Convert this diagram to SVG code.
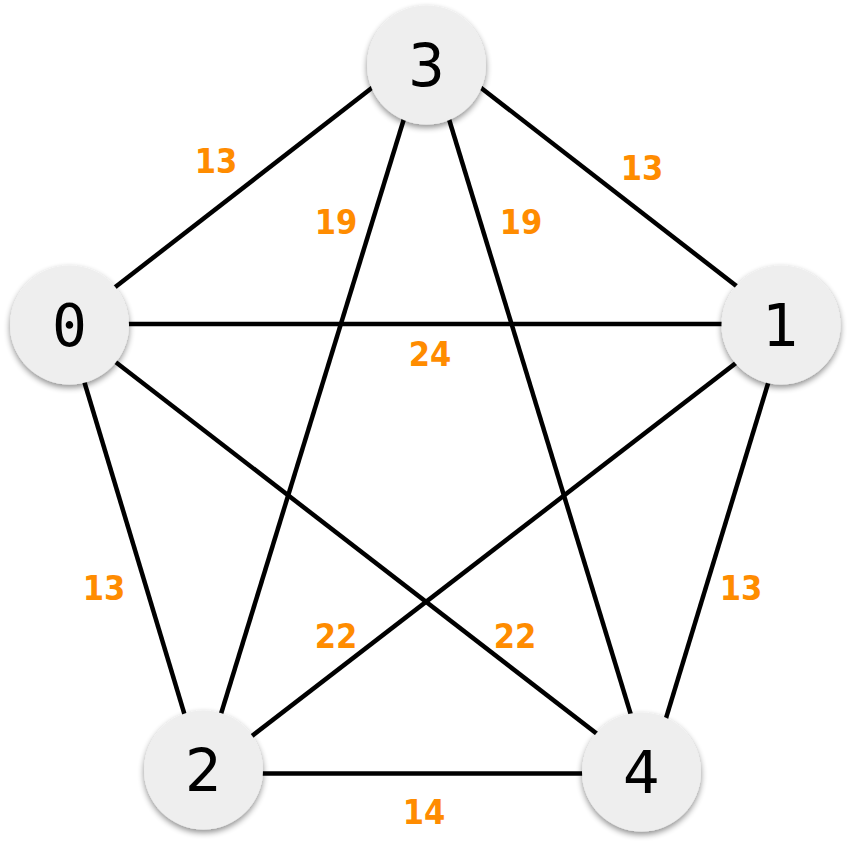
<svg xmlns="http://www.w3.org/2000/svg" width="851" height="856" viewBox="0 0 851 856">
<style>
.edge{stroke:#000;stroke-width:4.5;fill:none}
.node circle{fill:#eeeeee;filter:url(#sh)}
.node text{font-family:"DejaVu Sans",sans-serif;font-size:58px;fill:#000;text-anchor:middle}
.lbl{font-family:"DejaVu Sans Condensed","DejaVu Sans",sans-serif;font-stretch:condensed;font-weight:bold;font-size:34px;fill:#ff8c00;text-anchor:middle}
</style>
<defs>
<filter id="sh" x="-30%" y="-30%" width="160%" height="160%">
<feGaussianBlur in="SourceAlpha" stdDeviation="3"/>
<feOffset dx="0" dy="3" result="b"/>
<feComponentTransfer><feFuncA type="linear" slope="0.45"/></feComponentTransfer>
<feMerge><feMergeNode/><feMergeNode in="SourceGraphic"/></feMerge>
</filter>
</defs>
<rect width="851" height="856" fill="#fff"/>
<g id="edges">
<line class="edge" x1="67" y1="324.5" x2="426.5" y2="45.5"/>
<line class="edge" x1="426.5" y1="45.5" x2="786" y2="324.5"/>
<line class="edge" x1="67" y1="324" x2="786" y2="324"/>
<line class="edge" x1="426.5" y1="45.5" x2="202.5" y2="774"/>
<line class="edge" x1="426.5" y1="45.5" x2="649" y2="774"/>
<line class="edge" x1="67" y1="324.5" x2="202.5" y2="774"/>
<line class="edge" x1="67" y1="324.5" x2="649" y2="774"/>
<line class="edge" x1="786" y1="324.5" x2="202.5" y2="774"/>
<line class="edge" x1="786" y1="324.5" x2="649" y2="774"/>
<line class="edge" x1="202.5" y1="773.5" x2="649" y2="773.5"/>
</g>
<g id="labels">
<text class="lbl" x="216" y="172.5">13</text>
<text class="lbl" x="642" y="179.5">13</text>
<text class="lbl" x="336" y="233.5">19</text>
<text class="lbl" x="521" y="233.5">19</text>
<text class="lbl" x="430" y="366">24</text>
<text class="lbl" x="104" y="599.5">13</text>
<text class="lbl" x="741" y="599.5">13</text>
<text class="lbl" x="336" y="647.5">22</text>
<text class="lbl" x="515" y="647.5">22</text>
<text class="lbl" x="424" y="823.5">14</text>
</g>
<g id="node3" class="node"><circle cx="426.5" cy="65" r="59.5"/><text x="426.5" y="86">3</text></g>
<g id="node0" class="node"><circle cx="69.5" cy="325" r="59.5"/><text x="69.5" y="346" style="font-family:'DejaVu Sans Mono',monospace">0</text></g>
<g id="node1" class="node"><circle cx="781" cy="325" r="59.5"/><text x="781" y="346">1</text></g>
<g id="node2" class="node"><circle cx="203.5" cy="770" r="59.5"/><text x="203.5" y="791">2</text></g>
<g id="node4" class="node"><circle cx="641.5" cy="772" r="59.5"/><text x="641.5" y="793">4</text></g>
</svg>
